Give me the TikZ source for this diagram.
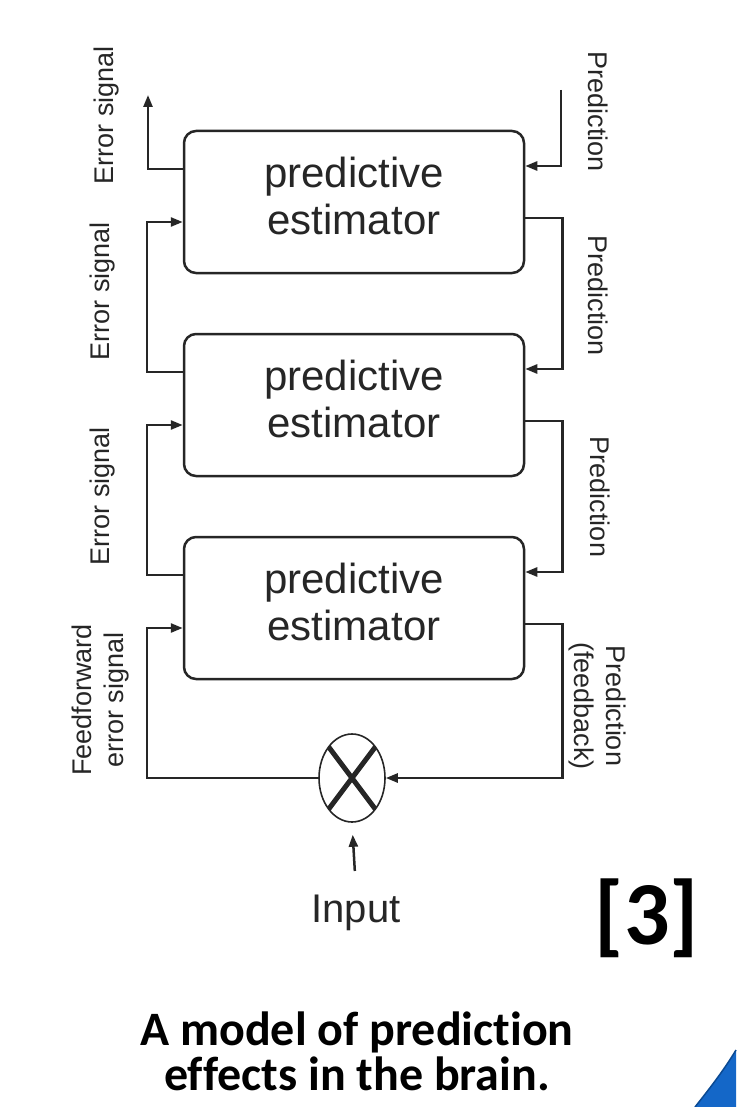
\documentclass[tikz,border=0pt]{standalone}
\usepackage{fontspec}
\setmainfont{Liberation Sans}
\newfontfamily\capfont{Carlito}[Ligatures={NoCommon,NoRare}]
\usetikzlibrary{arrows.meta,shapes.geometric}
\definecolor{ink}{HTML}{262626}
\definecolor{cornerblue}{HTML}{1467C8}
\definecolor{cornerdark}{HTML}{0B4A93}
\begin{document}
\begin{tikzpicture}[x=1pt,y=-1pt,
  est/.style={draw=ink, line width=2.5pt, rounded corners=12pt,
    minimum width=340pt, minimum height=142pt, align=center, text depth=12pt,
    font=\fontsize{42}{47}\selectfont, text=ink},
  conn/.style={draw=ink, line width=2.5pt},
  arr/.style={conn, -{Triangle[length=12pt,width=9pt]}},
  lbl/.style={font=\fontsize{27}{32}\selectfont, text=ink, align=center, inner sep=0pt},
]
\useasboundingbox (0,0) rectangle (736,1107);
\fill[white] (0,0) rectangle (736,1107);

% estimator boxes
\node[est] (b1) at (354,202) {predictive\\estimator};
\node[est] (b2) at (354,405) {predictive\\estimator};
\node[est] (b3) at (354,608) {predictive\\estimator};

% multiplier
\node[draw=ink, ellipse, line width=1.6pt, minimum width=66pt, minimum height=88pt, inner sep=0pt,
  path picture={\draw[ink, line width=5pt] (path picture bounding box.south west) -- (path picture bounding box.north east)
     (path picture bounding box.north west) -- (path picture bounding box.south east);}] (m) at (352,778) {};

\node[font=\fontsize{40}{44}\selectfont, text=ink, anchor=base] (inp) at (356,922) {Input};

% free ends
\coordinate (eout) at (148,95);
\coordinate (pin) at (561,90);

% left side (error signals)
\draw[arr] ([yshift=33pt]b1.west) -| (eout);
\draw[arr] ([yshift=33pt]b2.west) -- ++(-36,0) |- ([yshift=-20pt]b1.west);
\draw[arr] ([yshift=33pt]b3.west) -- ++(-36,0) |- ([yshift=-20pt]b2.west);
\draw[arr] (m.west) -| ([xshift=-36pt,yshift=-20pt]b3.west) -- ([yshift=-20pt]b3.west);

% right side (predictions)
\draw[arr] (pin) |- ([yshift=36pt]b1.east);
\draw[arr] ([yshift=-16pt]b1.east) -- ++(37,0) |- ([yshift=36pt]b2.east);
\draw[arr] ([yshift=-16pt]b2.east) -- ++(37,0) |- ([yshift=36pt]b3.east);
\draw[arr] ([yshift=-16pt]b3.east) -- ++(37,0) |- (m.east);

% input
\draw[arr, shorten <=20pt, shorten >=12pt] (inp.north) -- (m.south);

% labels
\node[lbl, rotate=90] (l1) at (107,115) {Error signal};
\node[lbl, rotate=90] (l2) at (103,291) {Error signal};
\node[lbl, rotate=90] (l3) at (103,496) {Error signal};
\node[lbl, rotate=90] (l4) at (101,700) {Feedforward\\error signal};
\node[lbl, rotate=-90] (r1) at (598,112) {Prediction};
\node[lbl, rotate=-90] (r2) at (598,296) {Prediction};
\node[lbl, rotate=-90] (r3) at (600,497) {Prediction};
\node[lbl, rotate=-90] (r4) at (597,706) {Prediction\\(feedback)};

% reference mark and caption
\node[font=\capfont\bfseries\fontsize{90}{92}\selectfont] (ref) at (647,918) {[3]};
\node[font=\capfont\bfseries\fontsize{48}{45}\selectfont, align=center] (cap) at (357,1051) {A model of prediction\\effects in the brain.};

% corner decoration
\fill[cornerblue] (695,1107) .. controls (710,1088) and (724,1070) .. (736,1050) -- (736,1107) -- cycle;
\draw[cornerdark, line width=1.5pt] (695,1107) .. controls (710,1088) and (724,1070) .. (736,1050);
\end{tikzpicture}
\end{document}
